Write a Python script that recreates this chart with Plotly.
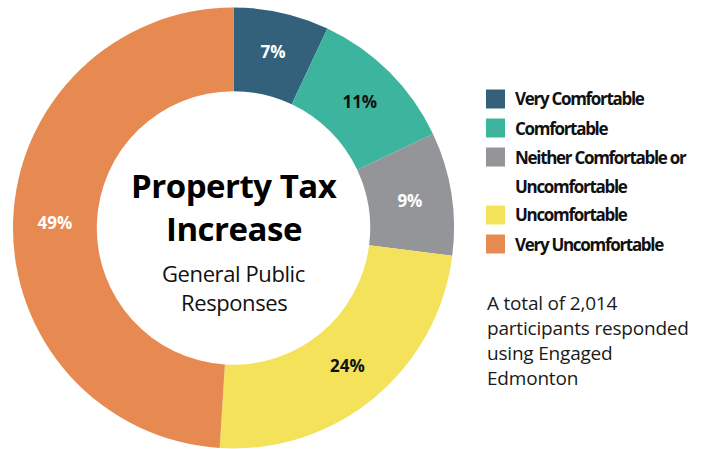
import plotly.graph_objects as go

# Survey responses: comfort with a property tax increase
categories = ["Very Comfortable", "Comfortable", "Neither Comfortable or Uncomfortable",
              "Uncomfortable", "Very Uncomfortable"]
legend_labels = ["Very Comfortable", "Comfortable", "Neither Comfortable or<br>Uncomfortable",
                 "Uncomfortable", "Very Uncomfortable"]
shares = [7, 11, 9, 24, 49]
colors = ["#33617B", "#3DB49E", "#949599", "#F3E25A", "#E78A51"]
label_colors = ["white", "#111111", "white", "#111111", "white"]

center_title = ["Property Tax", "Increase"]
center_sub = ["General Public", "Responses"]
note_lines = ["A total of 2,014", "participants responded", "using Engaged", "Edmonton"]

W, H = 717, 449
cx, cy, R = 233.5, 228.0, 220.5


def px(x):
    return x / W


def py(y):
    return 1 - y / H


fig = go.Figure(go.Pie(
    labels=categories,
    values=shares,
    sort=False,
    direction="clockwise",
    rotation=0,
    hole=0.62,
    marker=dict(colors=colors, line=dict(width=0)),
    texttemplate="%{value}%",
    textposition="inside",
    insidetextorientation="horizontal",
    insidetextfont=dict(family="Open Sans", size=17, color=label_colors, weight="bold"),
    domain=dict(x=[px(cx - R), px(cx + R)], y=[py(cy + R), py(cy - R)]),
    hoverinfo="label+percent",
    showlegend=False,
))

annotations = []
shapes = []

# Centre title
for text, y in zip(center_title, [185, 228]):
    annotations.append(dict(
        x=px(cx), y=py(y), xref="paper", yref="paper", showarrow=False,
        text=f'<span style="letter-spacing:-0.5px">{text}</span>',
        font=dict(family="Open Sans", size=33, color="#000000", weight="bold"),
        xanchor="center", yanchor="middle"))
for text, y in zip(center_sub, [273, 302]):
    annotations.append(dict(
        x=px(cx), y=py(y), xref="paper", yref="paper", showarrow=False,
        text=f'<span style="letter-spacing:-0.4px">{text}</span>',
        font=dict(family="Open Sans", size=22, color="#111111"),
        xanchor="center", yanchor="middle"))

# Legend rows
row_y = 99
for lab, col in zip(legend_labels, colors):
    shapes.append(dict(type="rect", xref="paper", yref="paper",
                       x0=px(486), x1=px(505), y0=py(row_y + 9.5), y1=py(row_y - 9.5),
                       fillcolor=col, line=dict(width=0)))
    lines = lab.split("<br>")
    for i, ln in enumerate(lines):
        annotations.append(dict(
            x=px(513), y=py(row_y + 29 * i), xref="paper", yref="paper", showarrow=False,
            text=f'<span style="letter-spacing:-1.3px">{ln}</span>',
            font=dict(family="Open Sans", size=17, color="#111111", weight="bold"),
            xanchor="left", yanchor="middle"))
    row_y += 29 * len(lines)

# Footnote
for i, ln in enumerate(note_lines):
    annotations.append(dict(
        x=px(485), y=py(303 + 25 * i), xref="paper", yref="paper", showarrow=False,
        text=f'<span style="letter-spacing:-0.2px">{ln}</span>',
        font=dict(family="Open Sans", size=19, color="#1a1a1a"),
        xanchor="left", yanchor="middle"))

fig.update_layout(
    width=W, height=H,
    margin=dict(l=0, r=0, t=0, b=0),
    paper_bgcolor="white", plot_bgcolor="white",
    annotations=annotations, shapes=shapes,
)

fig.write_html("out.html")
